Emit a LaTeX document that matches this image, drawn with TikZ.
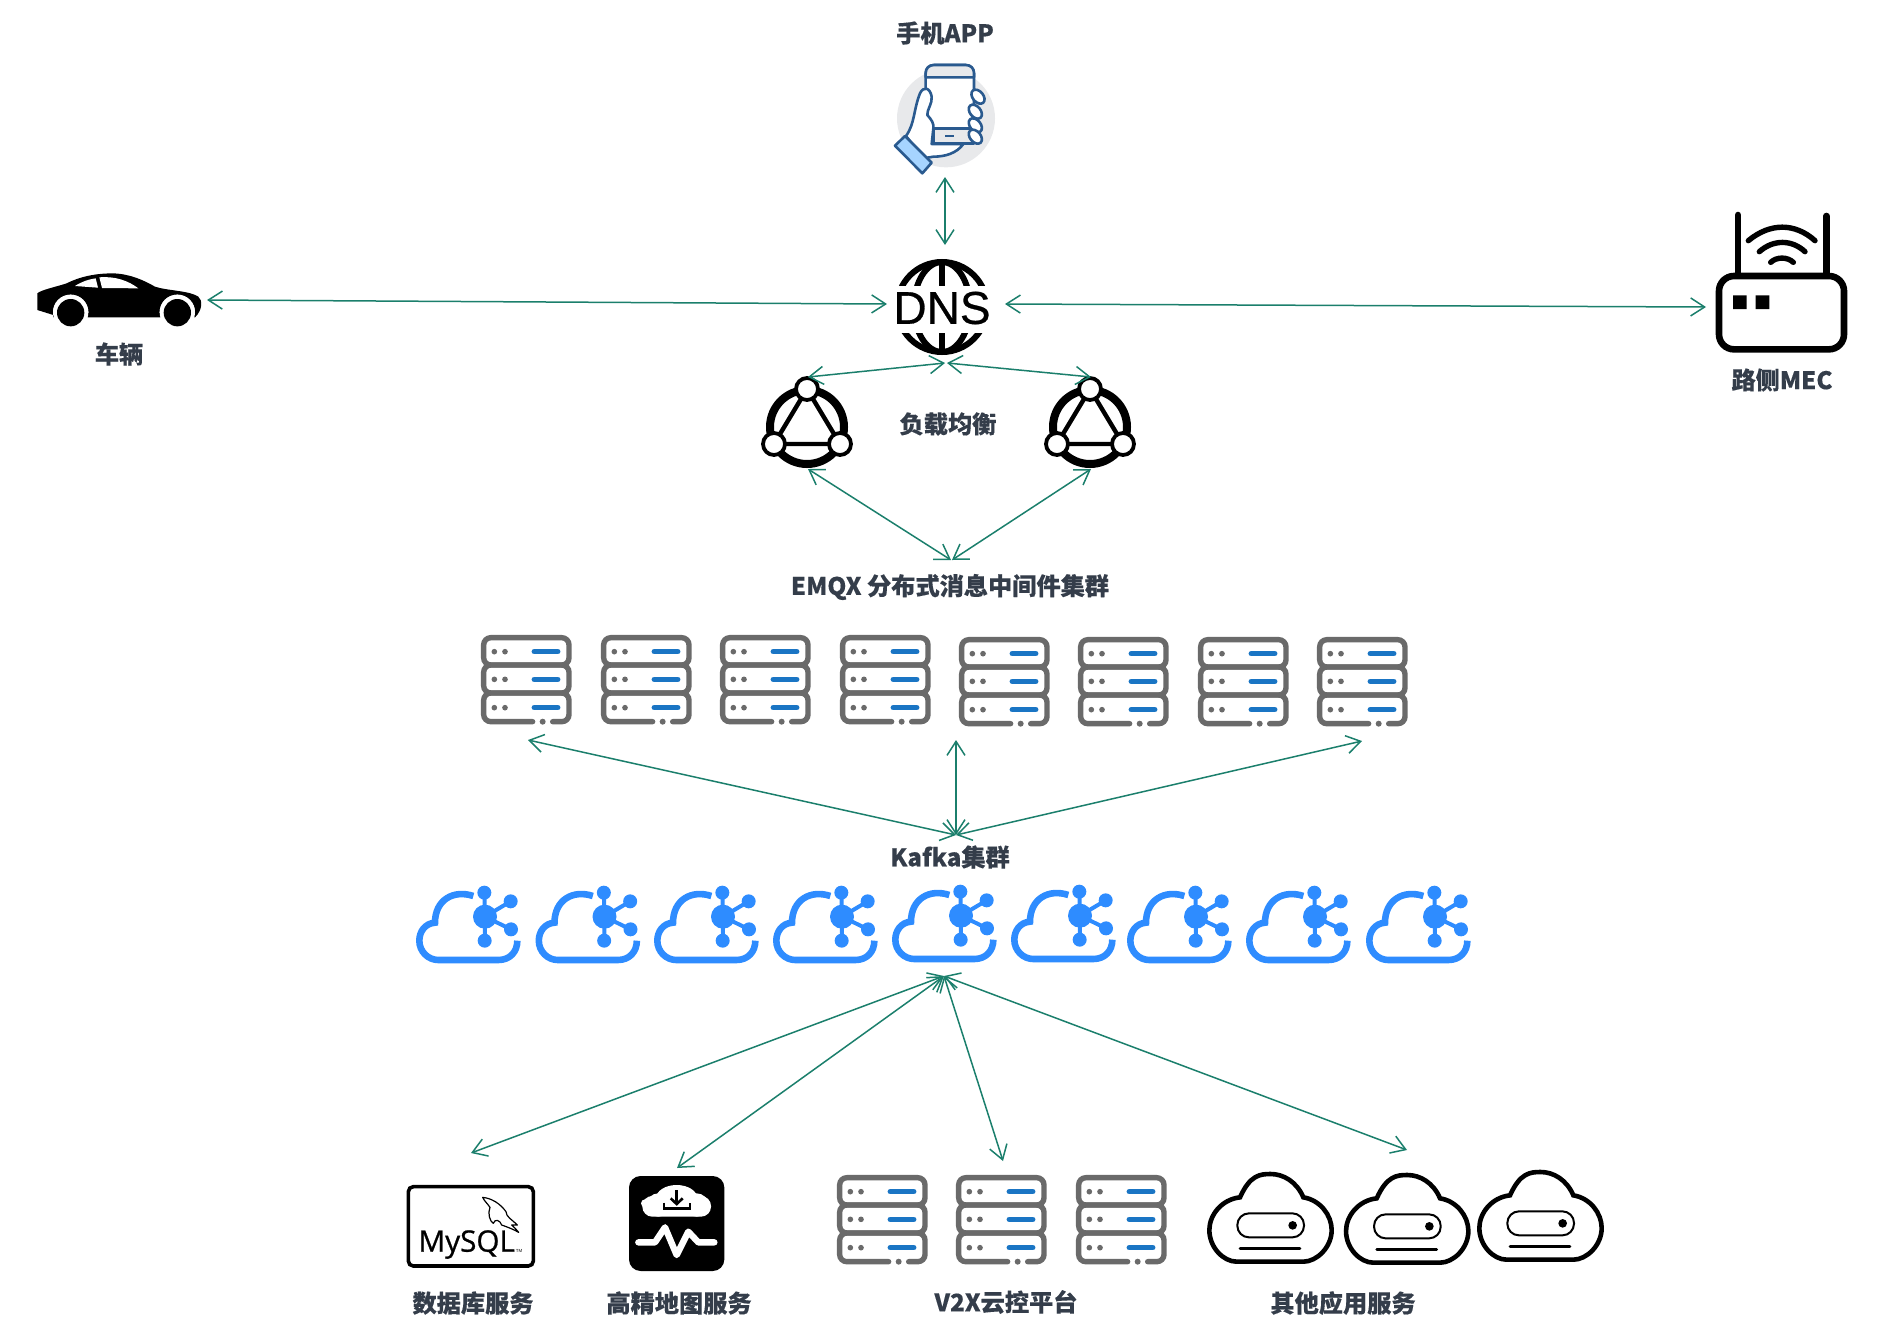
\documentclass[tikz,border=0pt]{standalone}
\usepackage{fontspec}
\usetikzlibrary{arrows.meta}
\setmainfont{Liberation Sans}
\newfontfamily\cjk[BoldFeatures={FakeBold=0.3}]{Noto Sans CJK SC}
\newfontfamily\opensans[FakeBold=0.8]{Open Sans}
\newfontfamily\dnsfont[FakeBold=0.6]{Liberation Sans}
\definecolor{conncol}{HTML}{1B7F6C}
\definecolor{labelcol}{HTML}{343D4A}
\definecolor{srvgray}{HTML}{6A6A6A}
\definecolor{srvblue}{HTML}{1A75C4}
\definecolor{kafblue}{HTML}{2E8CFF}
\definecolor{phoneblue}{HTML}{2A5A8F}
\definecolor{cuffblue}{HTML}{A6D4FF}
\definecolor{phonegray}{HTML}{E8E9EB}
\tikzset{
  zu/.style={x=0.16667pt,y=-0.16667pt},
  conn/.style={draw=conncol,line width=.75pt,{Straight Barb[length=7pt,width=9pt]}-{Straight Barb[length=7pt,width=9pt]}},
  lbl/.style={font=\cjk\bfseries\fontsize{12.1}{14}\selectfont,text=labelcol,inner sep=0pt},
  serverpic/.pic={
    \begin{scope}[zu]
      \draw[srvgray,line width=2.7pt,rounded corners=3.6pt] (8,8) rectangle (264,90);
      \draw[srvgray,line width=2.7pt,rounded corners=3.6pt] (8,90) rectangle (264,174);
      \draw[srvgray,line width=2.7pt,rounded corners=3.6pt,line cap=round] (155,260) -- (8,260) -- (8,174) -- (264,174) -- (264,260) -- (215,260);
      \fill[srvgray] (185,260) circle[radius=9];
      \foreach \r in {50,133,218}{
        \fill[srvgray] (40,\r) circle[radius=8.5] (72,\r) circle[radius=8.5];
        \draw[srvblue,line width=2.8pt,line cap=round] (160,\r) -- (230,\r);
      }
    \end{scope}
  },
  kafkapic/.pic={
    \begin{scope}[zu]
      \draw[kafblue,line width=3.3pt] (190,78) .. controls (130,58) and (75,90) .. (75,158)
        .. controls (45,160) and (28,185) .. (28,212) .. controls (28,245) and (55,270) .. (85,270)
        -- (265,270) .. controls (300,270) and (322,245) .. (322,212);
      \fill[kafblue] (225,140) circle[radius=36];
      \foreach \a/\b in {223/68,302/94,303/178,224/212}{
        \fill[kafblue] (\a,\b) circle[radius=21];
        \draw[kafblue,line width=2pt] (225,140) -- (\a,\b);
      }
    \end{scope}
  },
  lbpic/.pic={
    \draw[line width=4pt] (0,0) circle[radius=37];
    \draw[line width=2.2pt] (0,-38) -- (-33,17) -- (33,17) -- cycle;
    \foreach \a/\b in {0/-38,-33/17,33/17}{
      \filldraw[fill=white,draw=black,line width=1.9pt] (\a,\b) circle[radius=11];
    }
  },
  cloudpic/.pic={
    \begin{scope}[zu]
      \draw[line width=2.3pt,fill=white] (120,112) .. controls (150,45) and (180,42) .. (212,42)
        .. controls (250,42) and (290,65) .. (310,112)
        .. controls (360,120) and (395,165) .. (395,210)
        .. controls (395,262) and (350,305) .. (310,305) -- (110,305)
        .. controls (70,305) and (28,262) .. (28,210)
        .. controls (28,165) and (65,118) .. (120,112) -- cycle;
      \draw[line width=1pt,rounded corners=5.8pt] (112,160) rectangle (312,232);
      \fill (278,196) circle[radius=13];
      \draw[line width=1.3pt,line cap=round] (120,265) -- (300,265);
    \end{scope}
  }
}
\begin{document}
\begin{tikzpicture}[x=0.5pt,y=-0.5pt]
\useasboundingbox (0,0) rectangle (1902,1334);

% labels
\node[lbl] (tApp) at (945,33) {手机APP};
\node[lbl] (tCar) at (119,354) {车辆};
\node[lbl] (tMec) at (1782,380) {路侧MEC};
\node[lbl] (tLb) at (948,424) {负载均衡};
\node[lbl] (tEmqx) at (950,587) {EMQX 分布式消息中间件集群};
\node[lbl] (tKafka) at (950,857) {Kafka集群};
\node[lbl] (tDb) at (473,1303) {数据库服务};
\node[lbl] (tMap) at (679,1303) {高精地图服务};
\node[lbl] (tV2x) at (1006,1302) {V2X云控平台};
\node[lbl] (tOther) at (1343,1303) {其他应用服务};

% phone
\begin{scope}[shift={(820,0)},zu]
  \fill[phonegray] (378,355) circle[radius=147];
  \begin{scope}[draw=phoneblue,line width=1.3pt,line join=round]
    \filldraw[fill=white] (317,430) -- (317,220) .. controls (317,205) and (327,195) .. (342,195) -- (437,195) .. controls (452,195) and (462,205) .. (462,220) -- (462,430) -- cycle;
    \filldraw[fill=phonegray] (317,232) -- (317,220) .. controls (317,205) and (327,195) .. (342,195) -- (437,195) .. controls (452,195) and (462,205) .. (462,220) -- (462,232) -- cycle;
    \filldraw[fill=phonegray] (340,385) -- (462,385) -- (462,430) -- (340,430) -- cycle;
    \filldraw[fill=white] (258,408) .. controls (285,370) and (280,330) .. (300,280) .. controls (310,258) and (330,262) .. (335,290) .. controls (338,310) and (320,330) .. (322,345) .. controls (335,360) and (342,370) .. (340,385) -- (335,432) -- (430,432) .. controls (410,460) and (375,470) .. (340,470) -- (310,475) -- cycle;
    \filldraw[fill=cuffblue] (255,408) -- (335,488) -- (307,520) -- (225,437) -- cycle;
    \foreach \p in {(474,290),(466,335),(466,376),(466,410)}{
      \filldraw[fill=white,rotate around={-50:\p}] \p ellipse[x radius=24,y radius=16];
    }
    \draw[line width=1.4pt] (375,408) -- (403,408);
  \end{scope}
\end{scope}

% car
\begin{scope}[shift={(20,260)},zu]
  \fill (52,100) .. controls (62,90) and (110,80) .. (140,70) .. controls (190,45) and (240,40) .. (280,40) .. controls (330,42) and (370,60) .. (405,80) .. controls (440,92) and (510,92) .. (535,110) .. controls (548,120) and (548,150) .. (525,172) -- (100,172) -- (100,165) -- (52,150) -- cycle;
  \fill[white] (152,157) circle[radius=53] (472,157) circle[radius=53];
  \fill[white] (90,173) rectangle (540,200);
  \fill (100,160) rectangle (525,172);
  \fill[white] (152,157) circle[radius=53] (472,157) circle[radius=53];
  \fill (152,158) circle[radius=41] (472,158) circle[radius=41];
  \fill[white] (165,78) .. controls (185,65) and (205,58) .. (227,55) -- (234,83) -- cycle;
  \fill[white] (238,52) .. controls (285,48) and (325,62) .. (355,85) -- (246,84) -- cycle;
\end{scope}

% router
\begin{scope}[shift={(1700,200)},zu]
  \draw[line width=3.3pt,rounded corners=7.5pt] (57,228) rectangle (432,448);
  \draw[line width=3.3pt,line cap=round] (114,45) -- (114,225) (379,48) -- (379,225);
  \draw[line width=2.7pt,line cap=round] (145,122) .. controls (210,68) and (285,68) .. (345,122);
  \draw[line width=2.7pt,line cap=round] (178,155) .. controls (220,118) and (275,118) .. (315,155);
  \draw[line width=2.7pt,line cap=round] (212,187) .. controls (230,170) and (262,170) .. (280,187);
  \fill (99,286) rectangle (140,327) (167,286) rectangle (208,327);
\end{scope}

% DNS globe
\begin{scope}
  \clip (880,250) rectangle (1005,285);
  \draw[line width=3pt] (942,307) circle[radius=45];
  \draw[line width=3pt] (942,307) ellipse[x radius=28,y radius=45];
  \draw[line width=3pt] (942,261) -- (942,353);
\end{scope}
\begin{scope}
  \clip (880,333) rectangle (1005,365);
  \draw[line width=3pt] (942,307) circle[radius=45];
  \draw[line width=3pt] (942,307) ellipse[x radius=28,y radius=45];
  \draw[line width=3pt] (942,261) -- (942,353);
\end{scope}
\node[font=\dnsfont\fontsize{23}{25}\selectfont,inner sep=0pt] (dns) at (942,308) {DNS};

% load balancers
\pic at (807,427) {lbpic};
\pic at (1090,427) {lbpic};

% EMQX servers
\foreach \x/\y in {481/635,601/635,720/635,840/635,959/637,1078/637,1198/637,1317/637}{
  \pic at (\x,\y) {serverpic};
}

% Kafka clouds
\foreach \x/\y in {410/870,529.5/870,648/870,767/870,886/869,1005/869,1121/870,1240/870,1360/870}{
  \pic at (\x,\y) {kafkapic};
}

% MySQL and map
\begin{scope}[shift={(400,1170)},zu]
  \draw[line width=1.8pt,rounded corners=2.5pt] (25,50) rectangle (400,288);
  \node[font=\opensans\fontsize{14.8}{17}\selectfont,inner sep=0pt,anchor=base] (mysql) at (200,245) {MySQL};
  \node[font=\fontsize{2.2}{3}\selectfont,inner sep=0pt] (mysqltm) at (357,243) {TM};
  \draw[line width=.6pt,line join=round] (248,82) .. controls (275,85) and (300,100) .. (318,125) .. controls (318,140) and (335,148) .. (352,165) .. controls (345,165) and (340,165) .. (335,165) .. controls (342,172) and (350,178) .. (356,187) .. controls (340,178) and (325,172) .. (305,165) .. controls (300,150) and (285,145) .. (280,160) .. controls (270,155) and (262,130) .. (270,112) .. controls (262,100) and (252,92) .. (248,82) -- cycle;
  \fill[rounded corners=5.8pt] (687,18) rectangle (973,303);
  \fill[white] (735,100) circle[radius=12];
  \fill[white,rounded corners=5pt] (727,78) rectangle (933,140);
  \fill[white] (830,85) ellipse[x radius=62,y radius=40];
  \fill[white] (775,105) circle[radius=35];
  \fill[white] (890,105) circle[radius=35];
  \draw[line width=1.3pt] (792,98) -- (792,115) -- (870,115) -- (870,98);
  \draw[line width=1.5pt] (830,60) -- (830,100);
  \draw[line width=1.3pt] (812,85) -- (830,102) -- (848,85);
  \draw[white,line width=3.2pt,line cap=round,line join=round] (715,217) -- (765,217) -- (795,172) -- (830,255) -- (865,185) -- (895,217) -- (943,217);
\end{scope}

% V2X servers
\foreach \x/\y in {837/1175,956/1175,1076/1175}{
  \pic at (\x,\y) {serverpic};
}

% other clouds
\pic at (1200,1160) {cloudpic};
\pic at (1336.7,1161) {cloudpic};
\pic at (1470,1158) {cloudpic};

% connector ends
\coordinate (appS) at (945,177);
\coordinate (dnsN) at (945,245);
\coordinate (carE) at (207,300);
\coordinate (dnsW) at (887,304);
\coordinate (dnsE) at (1005,304);
\coordinate (mecW) at (1706,307);
\coordinate (dnsSL) at (945,363);
\coordinate (dnsSR) at (947,363);
\coordinate (lbLN) at (808,377);
\coordinate (lbRN) at (1091,377);
\coordinate (lbLS) at (808,469);
\coordinate (lbRS) at (1091,469);
\coordinate (emqxL) at (951,560);
\coordinate (emqxR) at (952,560);
\coordinate (srvL) at (528,740);
\coordinate (srvM) at (956,740);
\coordinate (srvR) at (1362,741);
\coordinate (kafN) at (956,835);
\coordinate (kafS) at (944,976);
\coordinate (dbN) at (471,1153);
\coordinate (mapN) at (677,1168);
\coordinate (v2xN) at (1003,1161);
\coordinate (othN) at (1407,1150);

\draw[conn] (appS) -- (dnsN);
\draw[conn] (carE) -- (dnsW);
\draw[conn] (dnsE) -- (mecW);
\draw[conn] (dnsSL) -- (lbLN);
\draw[conn] (dnsSR) -- (lbRN);
\draw[conn] (lbLS) -- (emqxL);
\draw[conn] (lbRS) -- (emqxR);
\draw[conn] (srvL) -- (kafN);
\draw[conn] (srvM) -- (kafN);
\draw[conn] (srvR) -- (kafN);
\draw[conn] (kafS) -- (dbN);
\draw[conn] (kafS) -- (mapN);
\draw[conn] (kafS) -- (v2xN);
\draw[conn] (kafS) -- (othN);
\end{tikzpicture}
\end{document}
